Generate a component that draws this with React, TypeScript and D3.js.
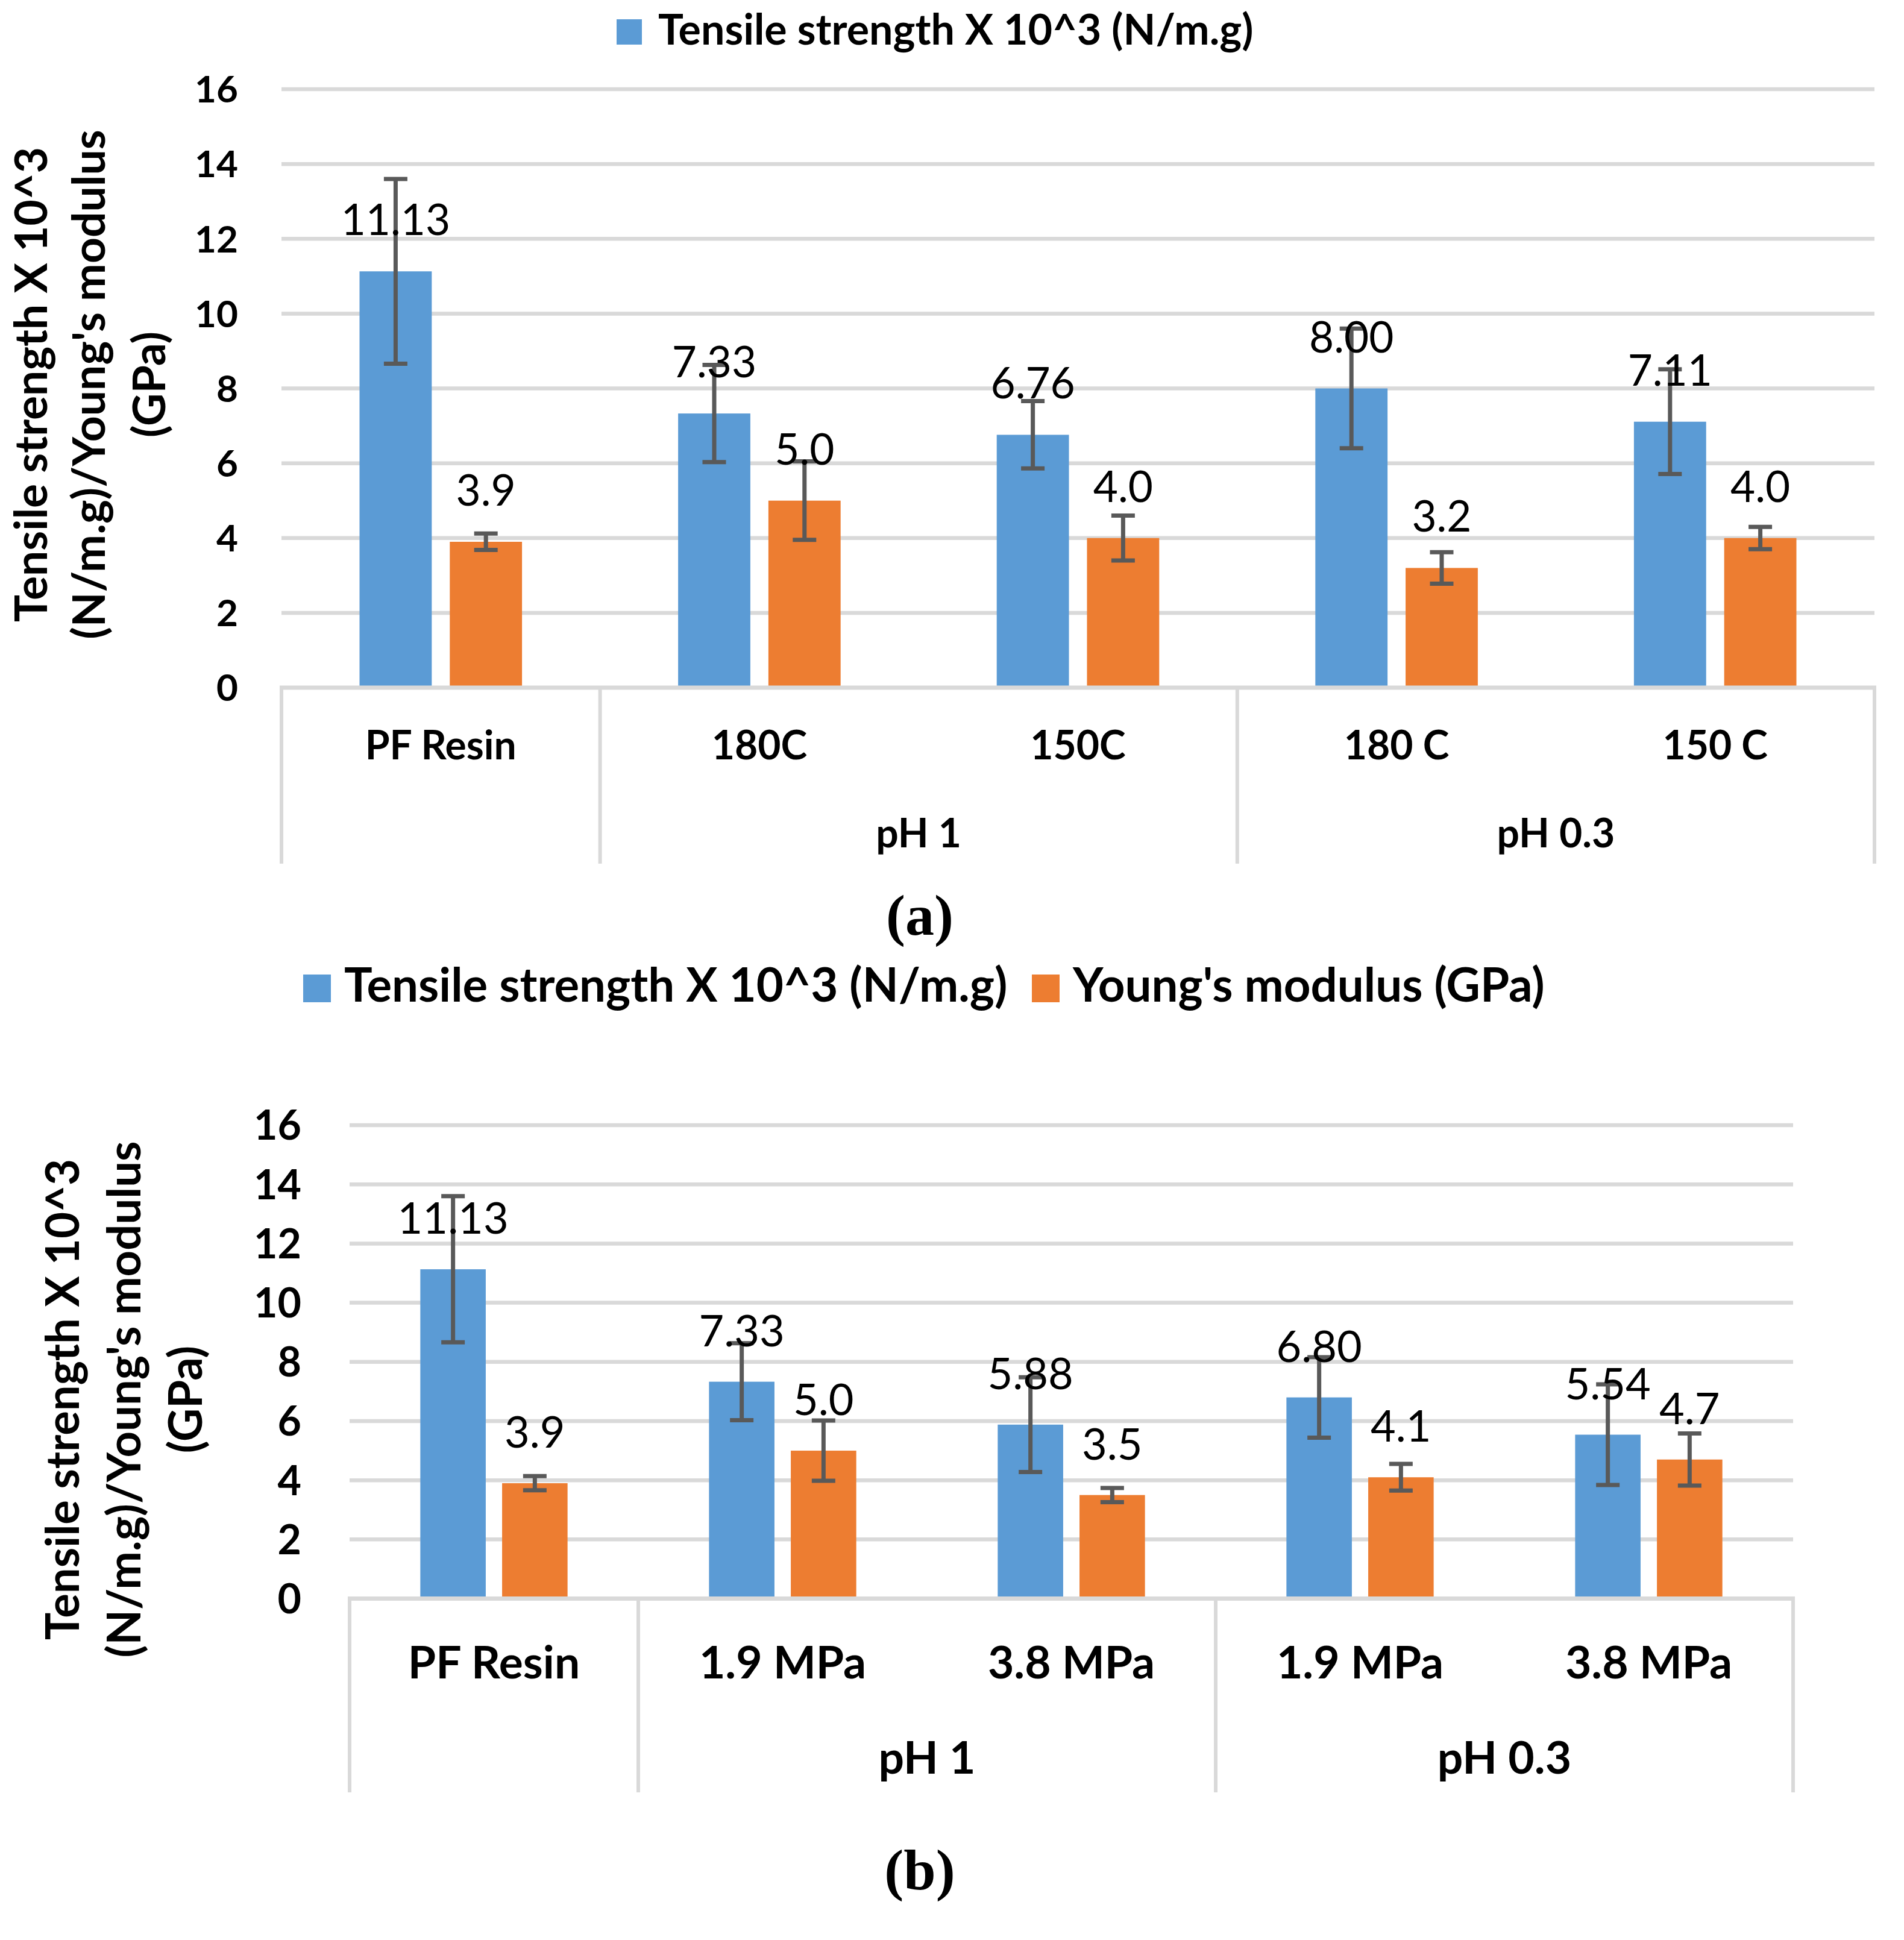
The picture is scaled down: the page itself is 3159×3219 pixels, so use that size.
import React from "react";
import * as d3 from "d3";

// ---------- data ----------
const categoriesA = ["PF Resin", "180C", "150C", "180 C", "150 C"];
const categoriesB = ["PF Resin", "1.9 MPa", "3.8 MPa", "1.9 MPa", "3.8 MPa"];
const groupLabels = ["", "pH 1", "pH 0.3"];
const groupSpans = [1, 2, 2];

const tensileA = [11.13, 7.33, 6.76, 8.0, 7.11];
const tensileErrA = [2.47, 1.3, 0.9, 1.6, 1.4];
const youngA = [3.9, 5.0, 4.0, 3.2, 4.0];
const youngErrA = [0.22, 1.05, 0.6, 0.42, 0.3];

const tensileB = [11.13, 7.33, 5.88, 6.8, 5.54];
const tensileErrB = [2.47, 1.3, 1.6, 1.36, 1.7];
const youngB = [3.9, 5.0, 3.5, 4.1, 4.7];
const youngErrB = [0.24, 1.02, 0.24, 0.45, 0.88];

const yTicks = [0, 2, 4, 6, 8, 10, 12, 14, 16];
const seriesNames = ["Tensile strength X 10^3 (N/m.g)", "Young's modulus (GPa)"];
const titleLines = ["Tensile strength X 10^3", "(N/m.g)/Young's modulus", "(GPa)"];

const BLUE = "#5B9BD5";
const ORANGE = "#ED7D31";
const GRID = "#D9D9D9";
const ERR = "#595959";
const SANS = "Lato, 'Open Sans', sans-serif";
const SERIF = "'Liberation Serif', 'Times New Roman', serif";

type Geo = {
  x0: number; x1: number; yBase: number; yTop: number;
  tickX: number; tickSize: number; labelSize: number; labelGap: number;
  catSize: number; catBaseline: number; groupBaseline: number; sepBottom: number;
  titleX: number[]; titleCY: number; titleSize: number;
  panel: string; panelY: number;
  legend: { rx: number; ry: number; rs: number; tx: number; ty: number; size: number }[];
};

function Chart({ geo, cats, s1, e1, s2, e2 }: { geo: Geo; cats: string[]; s1: number[]; e1: number[]; s2: number[]; e2: number[] }) {
  const x = d3.scaleBand<number>().domain(d3.range(cats.length)).range([geo.x0, geo.x1]).padding(0);
  const y = d3.scaleLinear().domain([0, 16]).range([geo.yBase, geo.yTop]);
  const cw = x.bandwidth();
  const inner = (i: number) =>
    d3.scaleBand<number>().domain([0, 1])
      .range([x(i)! + cw / 2 - 0.255 * cw, x(i)! + cw / 2 + 0.255 * cw])
      .paddingInner(0.2).paddingOuter(0);
  const series = [
    { vals: s1, errs: e1, color: BLUE, fmt: d3.format(".2f") },
    { vals: s2, errs: e2, color: ORANGE, fmt: d3.format(".1f") },
  ];
  // separators at group boundaries
  const bounds = [0, ...d3.cumsum(groupSpans)];
  let acc = 0;
  const groups = groupLabels.map((g, gi) => {
    const start = acc;
    acc += groupSpans[gi];
    return { label: g, cx: (x(start)! + x(acc - 1)! + cw) / 2 };
  });
  const capW = 39;
  return (
    <g>
      {/* legend */}
      {geo.legend.map((l, i) => (
        <g key={"lg" + i}>
          <rect x={l.rx} y={l.ry} width={l.rs} height={l.rs} fill={i === 0 ? BLUE : ORANGE} />
          <text x={l.tx} y={l.ty} fontFamily={SANS} fontWeight={700} fontSize={l.size} fill="#000">
            {seriesNames[i]}
          </text>
        </g>
      ))}
      {/* gridlines */}
      {yTicks.filter((t) => t > 0).map((t) => (
        <line key={"g" + t} x1={geo.x0} x2={geo.x1} y1={y(t)} y2={y(t)} stroke={GRID} strokeWidth={6.5} />
      ))}
      {/* tick labels */}
      {yTicks.map((t) => (
        <text key={"t" + t} x={geo.tickX} y={y(t)} dy="0.36em" textAnchor="end" fontFamily={SANS}
          fontWeight={700} fontSize={geo.tickSize} fill="#000">{t}</text>
      ))}
      {/* y title */}
      {titleLines.map((line, i) => (
        <text key={"yt" + i} transform={`translate(${geo.titleX[i]},${geo.titleCY}) rotate(-90)`}
          textAnchor="middle" fontFamily={SANS} fontWeight={700} fontSize={geo.titleSize} fill="#000">{line}</text>
      ))}
      {/* bars */}
      {cats.map((_, i) => {
        const ib = inner(i);
        return series.map((s, si) => (
          <rect key={`b${i}-${si}`} x={ib(si)} y={y(s.vals[i])} width={ib.bandwidth()}
            height={y(0) - y(s.vals[i])} fill={s.color} />
        ));
      })}
      {/* axis line and separators */}
      <line x1={geo.x0 - 3} x2={geo.x1 + 3} y1={y(0)} y2={y(0)} stroke={GRID} strokeWidth={7} />
      {bounds.map((b) => {
        const bx = b < cats.length ? x(b)! : geo.x1;
        return <line key={"s" + b} x1={bx} x2={bx} y1={y(0)} y2={geo.sepBottom} stroke={GRID} strokeWidth={6} />;
      })}
      {/* error bars */}
      {cats.map((_, i) => {
        const ib = inner(i);
        return series.map((s, si) => {
          const cx = ib(si)! + ib.bandwidth() / 2;
          const hi = y(s.vals[i] + s.errs[i]);
          const lo = y(s.vals[i] - s.errs[i]);
          return (
            <g key={`e${i}-${si}`} stroke={ERR} strokeWidth={7}>
              <line x1={cx} x2={cx} y1={hi} y2={lo} />
              <line x1={cx - capW / 2} x2={cx + capW / 2} y1={hi} y2={hi} />
              <line x1={cx - capW / 2} x2={cx + capW / 2} y1={lo} y2={lo} />
            </g>
          );
        });
      })}
      {/* data labels */}
      {cats.map((_, i) => {
        const ib = inner(i);
        return series.map((s, si) => (
          <text key={`l${i}-${si}`} x={ib(si)! + ib.bandwidth() / 2} y={y(s.vals[i]) - geo.labelGap}
            textAnchor="middle" fontFamily={SANS} fontSize={geo.labelSize} fill="#000">{s.fmt(s.vals[i])}</text>
        ));
      })}
      {/* category labels */}
      {cats.map((c, i) => (
        <text key={"c" + i} x={x(i)! + cw / 2} y={geo.catBaseline} textAnchor="middle" fontFamily={SANS}
          fontWeight={700} fontSize={geo.catSize} fill="#000">{c}</text>
      ))}
      {groups.map((g, i) => (
        <text key={"gr" + i} x={g.cx} y={geo.groupBaseline} textAnchor="middle" fontFamily={SANS}
          fontWeight={700} fontSize={geo.catSize} fill="#000">{g.label}</text>
      ))}
      {/* panel label */}
      <text x={1526} y={geo.panelY} textAnchor="middle" fontFamily={SERIF} fontWeight={700} fontSize={96} fill="#000">
        {geo.panel}
      </text>
    </g>
  );
}

const geoA: Geo = {
  x0: 467, x1: 3110, yBase: 1141, yTop: 148,
  tickX: 395, tickSize: 62, labelSize: 71, labelGap: 60,
  catSize: 66, catBaseline: 1260, groupBaseline: 1406, sepBottom: 1433,
  titleX: [78, 174, 274], titleCY: 638, titleSize: 75,
  panel: "(a)", panelY: 1551,
  legend: [{ rx: 1023, ry: 32, rs: 42, tx: 1092, ty: 74, size: 70 }],
};

const geoB: Geo = {
  x0: 580, x1: 2975, yBase: 2652.5, yTop: 1867,
  tickX: 500, tickSize: 68, labelSize: 72, labelGap: 59,
  catSize: 75, catBaseline: 2785, groupBaseline: 2943, sepBottom: 2974,
  titleX: [131, 233, 335], titleCY: 2322, titleSize: 76,
  panel: "(b)", panelY: 3135,
  legend: [
    { rx: 503, ry: 1617, rs: 46, tx: 571, ty: 1662, size: 78 },
    { rx: 1712, ry: 1617, rs: 46, tx: 1780, ty: 1662, size: 78 },
  ],
};

export default function App() {
  return (
    <svg width={3159} height={3219} viewBox="0 0 3159 3219"
      style={{ position: "absolute", left: 0, top: 0, background: "#fff" }}>
      <rect x={0} y={0} width={3159} height={3219} fill="#fff" />
      <Chart geo={geoA} cats={categoriesA} s1={tensileA} e1={tensileErrA} s2={youngA} e2={youngErrA} />
      <Chart geo={geoB} cats={categoriesB} s1={tensileB} e1={tensileErrB} s2={youngB} e2={youngErrB} />
    </svg>
  );
}
